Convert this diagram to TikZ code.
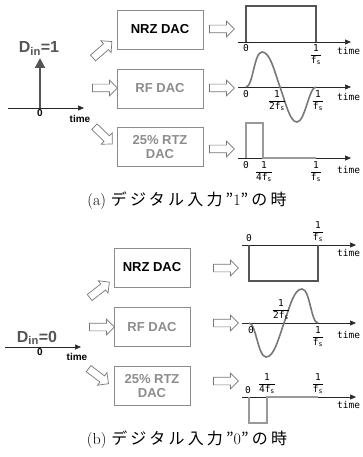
\documentclass[tikz,border=0pt]{standalone}
\usepackage{amsmath}
\usepackage{fontspec}
\setsansfont{Liberation Sans}
\newfontfamily\monofont{DejaVu Sans Mono}
\newfontfamily\cjk[LetterSpace=20]{Noto Sans CJK JP}
\usetikzlibrary{arrows.meta,positioning,shapes.arrows}
\definecolor{boxgray}{HTML}{8C8C8C}
\definecolor{wavedark}{HTML}{555555}
\definecolor{wavemid}{HTML}{777777}
\definecolor{wavelight}{HTML}{9A9A9A}
\newcommand{\invf}[1]{$\dfrac{\text{1}}{\text{#1f}_{\text{s}}}$}

\begin{document}
\begin{tikzpicture}[x=1pt, y=-1pt,
    dac/.style={draw=boxgray, line width=0.8pt, align=center, inner sep=0pt,
                minimum height=39pt, font=\sffamily\bfseries\fontsize{13}{14}\selectfont},
    hollow/.style={single arrow, draw=wavemid, fill=white, line width=0.7pt,
                   minimum height=25pt, minimum width=0pt, inner sep=3.5pt,
                   single arrow head extend=4pt, single arrow head indent=0pt},
    ax/.style={-{Triangle[length=6pt,width=5pt]}, line width=0.6pt, black!85},
    din/.style={font=\sffamily\bfseries\fontsize{16}{18}\selectfont, wavedark, inner sep=0pt},
    bl/.style={font=\sffamily\bfseries\fontsize{10}{11}\selectfont, inner sep=1pt},
    lbl/.style={font=\monofont\fontsize{9.5}{11}\selectfont, inner sep=1pt},
    caption/.style={font=\fontsize{16}{18}\selectfont},
    wave/.style={line width=1.6pt, #1}
  ]
    \useasboundingbox (0,0) rectangle (363,457);

    % (a) input D_in = 1
    \node[din, anchor=base] (dinA) at (39,53) {D\textsubscript{in}=1};
    \coordinate (oA) at (40,108);
    \coordinate (tipA) at (40,58);
    \coordinate (axAs) at (8,108);
    \coordinate (axAe) at (84,108);
    \draw[ax] (axAs) -- (axAe);
    \draw[-{Triangle[length=10pt,width=10pt]}, line width=2pt, wavedark] (oA) -- (tipA);
    \node[bl, below=0pt of oA] (zA) {0};
    \node[bl] (tA) at (80,119) {time};

    \node[hollow, rotate=41]  (hA1) at (101,51)  {};
    \node[hollow]             (hA2) at (103,88)  {};
    \node[hollow, rotate=-44] (hA3) at (102,134) {};

    \node[dac, minimum width=86pt]             (nrzA) at (160,29.5) {NRZ DAC};
    \node[dac, minimum width=86pt, boxgray]    (rfA)  at (160,88.5) {RF DAC};
    \node[dac, minimum width=86pt, boxgray]    (rtzA) at (160,147)  {25\% RTZ\\DAC};

    \node[hollow] (hA4) at (220,29)  {};
    \node[hollow] (hA5) at (220,88)  {};
    \node[hollow] (hA6) at (220,149) {};

    % (a) NRZ output
    \coordinate (aN0) at (238,42);
    \coordinate (aN1) at (351,42);
    \draw[ax] (aN0) -- (aN1);
    \draw[wave=wavedark] (246,42) -- (246,6) -- (316,6) -- (316,42);
    \node[lbl, anchor=north] (aNz) at (246,43) {0};
    \node[lbl, anchor=north] (aNf) at (316,43) {\invf{}};
    \node[lbl, anchor=west]  (aNt) at (336,51) {time};

    % (a) RF output
    \coordinate (aR0) at (238,87);
    \coordinate (aR1) at (351,87);
    \draw[ax] (aR0) -- (aR1);
    \draw[wave=wavemid] (246,87) .. controls (253,87) and (254,52) .. (262,52)
        .. controls (270,52) and (274,70) .. (280,87)
        .. controls (286,104) and (290,122) .. (297,122)
        .. controls (305,122) and (309,87) .. (316,87);
    \node[lbl, anchor=north] (aRz) at (246,89) {0};
    \node[lbl, anchor=north] (aRh) at (277,89) {\invf{2}};
    \node[lbl, anchor=north] (aRf) at (318,89) {\invf{}};
    \node[lbl, anchor=west]  (aRt) at (336,97) {time};

    % (a) 25% RTZ output
    \coordinate (aT0) at (238,158);
    \coordinate (aT1) at (351,158);
    \draw[ax] (aT0) -- (aT1);
    \draw[wave=wavelight] (246,158) -- (246,123) -- (263,123) -- (263,158) -- (316,158);
    \node[lbl, anchor=north] (aTz) at (246,160) {0};
    \node[lbl, anchor=north] (aTq) at (264,160) {\invf{4}};
    \node[lbl, anchor=north] (aTf) at (316,160) {\invf{}};
    \node[lbl, anchor=west]  (aTt) at (336,170) {time};

    \node[caption] (capA) at (187,201) {(a) {\cjk デジタル入力”}1{\cjk ”の時}};

    % (b) input D_in = 0
    \node[din, anchor=base] (dinB) at (37,342) {D\textsubscript{in}=0};
    \coordinate (oB) at (40,347);
    \coordinate (axBs) at (5,347);
    \coordinate (axBe) at (81,347);
    \draw[ax] (axBs) -- (axBe);
    \node[bl, below=0pt of oB] (zB) {0};
    \node[bl] (tB) at (77,357) {time};

    \node[hollow, rotate=38]  (hB1) at (98,291)  {};
    \node[hollow]             (hB2) at (100,327) {};
    \node[hollow, rotate=-37] (hB3) at (97,375)  {};

    \node[dac, minimum width=76pt]             (nrzB) at (152,267.5) {NRZ DAC};
    \node[dac, minimum width=76pt, boxgray]    (rfB)  at (152,327)   {RF DAC};
    \node[dac, minimum width=76pt, boxgray]    (rtzB) at (152,386)   {25\% RTZ\\DAC};

    \node[hollow] (hB4) at (224,268) {};
    \node[hollow] (hB5) at (224,323) {};
    \node[hollow] (hB6) at (224,381) {};

    % (b) NRZ output
    \coordinate (bN0) at (242,245);
    \coordinate (bN1) at (356,245);
    \draw[ax] (bN0) -- (bN1);
    \draw[wave=wavedark] (249,245) -- (249,281) -- (318,281) -- (318,245);
    \node[lbl, anchor=south] (bNz) at (249,243) {0};
    \node[lbl, anchor=south] (bNf) at (318,243) {\invf{}};
    \node[lbl, anchor=west]  (bNt) at (336,253) {time};

    % (b) RF output
    \coordinate (bR0) at (242,323);
    \coordinate (bR1) at (356,323);
    \draw[ax] (bR0) -- (bR1);
    \draw[wave=wavemid] (249,323) .. controls (256,323) and (258,357) .. (266,357)
        .. controls (274,357) and (278,340) .. (284,323)
        .. controls (290,306) and (294,289) .. (302,289)
        .. controls (310,289) and (311,323) .. (318,323);
    \node[lbl, anchor=north] (bRz) at (251,325) {0};
    \node[lbl, anchor=south] (bRh) at (281,321) {\invf{2}};
    \node[lbl, anchor=north] (bRf) at (318,325) {\invf{}};
    \node[lbl, anchor=west]  (bRt) at (336,335) {time};

    % (b) 25% RTZ output
    \coordinate (bT0) at (242,397);
    \coordinate (bT1) at (356,397);
    \draw[ax] (bT0) -- (bT1);
    \draw[wave=wavelight] (249,397) -- (249,423) -- (267,423) -- (267,397) -- (318,397);
    \node[lbl, anchor=south] (bTz) at (248,395) {0};
    \node[lbl, anchor=south] (bTq) at (267,395) {\invf{4}};
    \node[lbl, anchor=south] (bTf) at (318,395) {\invf{}};
    \node[lbl, anchor=west]  (bTt) at (336,405) {time};

    \node[caption] (capB) at (187,440) {(b) {\cjk デジタル入力”}0{\cjk ”の時}};
  \end{tikzpicture}
\end{document}
